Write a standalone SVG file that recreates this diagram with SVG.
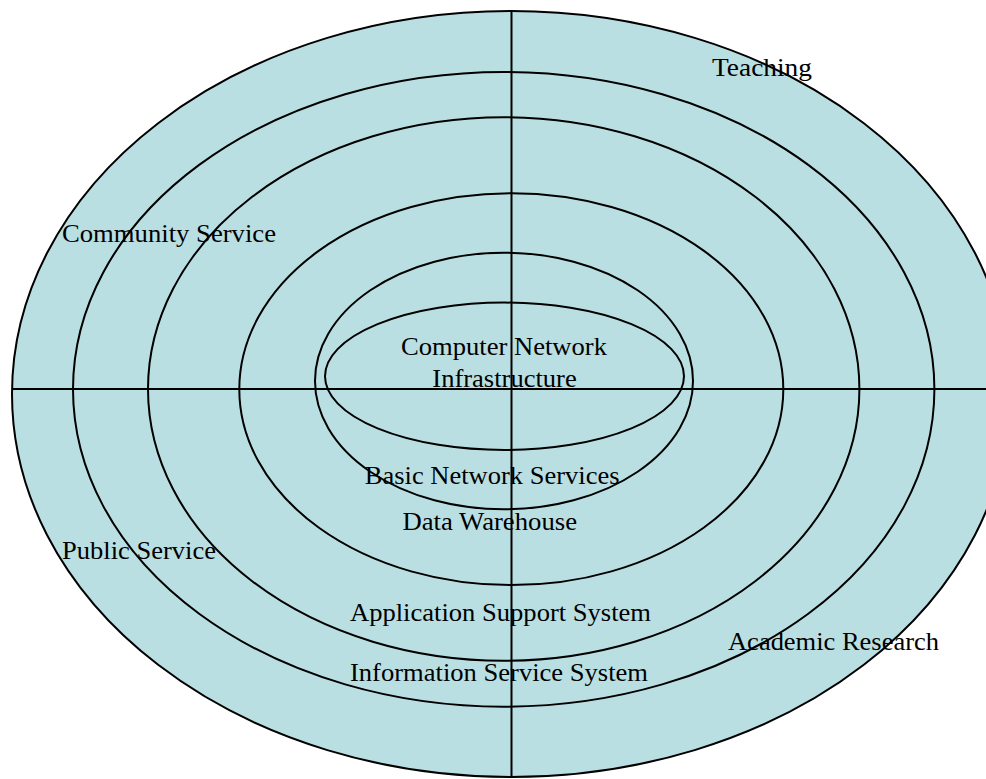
<svg xmlns="http://www.w3.org/2000/svg" width="986" height="779" viewBox="0 0 986 779">
<style>
.ring{fill:#badfe3;stroke:#000;stroke-width:2}
.ln{stroke:#000;stroke-width:2;fill:none}
.lbl{font-family:"Liberation Serif","Times New Roman",serif;font-size:25.5px;fill:#000}
</style>
<rect width="986" height="779" fill="#fff"/>
<g id="ring-outer">
<ellipse class="ring" cx="511" cy="394" rx="499" ry="383"/>
</g>
<g id="ring-information-service">
<ellipse class="ring" cx="503.7" cy="389.3" rx="430.7" ry="317.4"/>
</g>
<g id="ring-application-support">
<ellipse class="ring" cx="503.7" cy="389" rx="355.7" ry="271.8"/>
</g>
<g id="ring-data-warehouse">
<ellipse class="ring" cx="511.3" cy="389.2" rx="272" ry="195.9"/>
</g>
<g id="ring-basic-network">
<ellipse class="ring" cx="504" cy="381" rx="189" ry="128.3"/>
</g>
<g id="ring-infrastructure">
<ellipse class="ring" cx="504.5" cy="376.3" rx="179.5" ry="73.7"/>
</g>
<g id="connectors">
<line class="ln" x1="511.5" y1="11" x2="511.5" y2="778"/>
<line class="ln" x1="12" y1="389" x2="986" y2="389"/>
</g>
<g id="labels">
<text id="t-teaching" class="lbl" x="712" y="76" textLength="100" lengthAdjust="spacingAndGlyphs">Teaching</text>
<text id="t-community" class="lbl" x="62" y="242" textLength="214" lengthAdjust="spacingAndGlyphs">Community Service</text>
<text id="t-infra" class="lbl" x="401" y="355" textLength="206" lengthAdjust="spacingAndGlyphs">Computer Network</text>
<text class="lbl" x="432.3" y="387" textLength="144.4" lengthAdjust="spacingAndGlyphs">Infrastructure</text>
<text id="t-basic" class="lbl" x="364.8" y="484" textLength="254.7" lengthAdjust="spacingAndGlyphs">Basic Network Services</text>
<text id="t-dw" class="lbl" x="402.5" y="530" textLength="174.5" lengthAdjust="spacingAndGlyphs">Data Warehouse</text>
<text id="t-public" class="lbl" x="62" y="559" textLength="154" lengthAdjust="spacingAndGlyphs">Public Service</text>
<text id="t-app" class="lbl" x="350" y="621" textLength="301" lengthAdjust="spacingAndGlyphs">Application Support System</text>
<text id="t-academic" class="lbl" x="728" y="650" textLength="211" lengthAdjust="spacingAndGlyphs">Academic Research</text>
<text id="t-info" class="lbl" x="350" y="681" textLength="298" lengthAdjust="spacingAndGlyphs">Information Service System</text>
</g>
</svg>
